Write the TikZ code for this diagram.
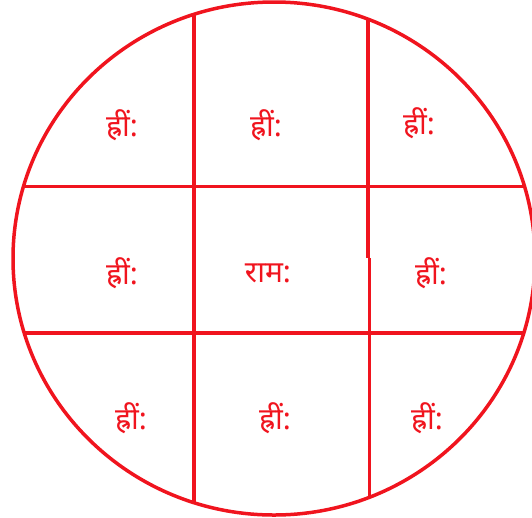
\documentclass[tikz,border=0pt]{standalone}
\usepackage{fontspec}
\newfontfamily\deva[Script=Devanagari]{Noto Sans}
\definecolor{yred}{RGB}{240,20,30}
\begin{document}
\begin{tikzpicture}[x=1pt,y=-1pt,
  gridline/.style={draw=yred,line width=3.5pt},
  lbl/.style={text=yred,font=\deva\fontsize{30}{36}\selectfont,inner sep=0pt}]
\useasboundingbox (0,0) rectangle (532,517);
\begin{scope}
\clip (274,258.5) ellipse [x radius=261, y radius=256.5];
\draw[gridline] (194,0) -- (194,517);
\draw[gridline] (368,0) -- (368,258);
\draw[gridline] (369.5,258) -- (369.5,517);
\draw[gridline] (0,186.7) -- (540,186.7);
\draw[gridline] (0,333) -- (540,333);
\end{scope}
\draw[gridline] (274,258.5) ellipse [x radius=261, y radius=256.5];
\node[lbl] (a1) at (122,125) {ह्रीं:};
\node[lbl] (a2) at (266,125) {ह्रीं:};
\node[lbl] (a3) at (419,123) {ह्रीं:};
\node[lbl] (b1) at (122,273) {ह्रीं:};
\node[lbl] (b2) at (268,273) {राम:};
\node[lbl] (b3) at (431,273) {ह्रीं:};
\node[lbl] (c1) at (131,418) {ह्रीं:};
\node[lbl] (c2) at (275,418) {ह्रीं:};
\node[lbl] (c3) at (427,418) {ह्रीं:};
\end{tikzpicture}
\end{document}
